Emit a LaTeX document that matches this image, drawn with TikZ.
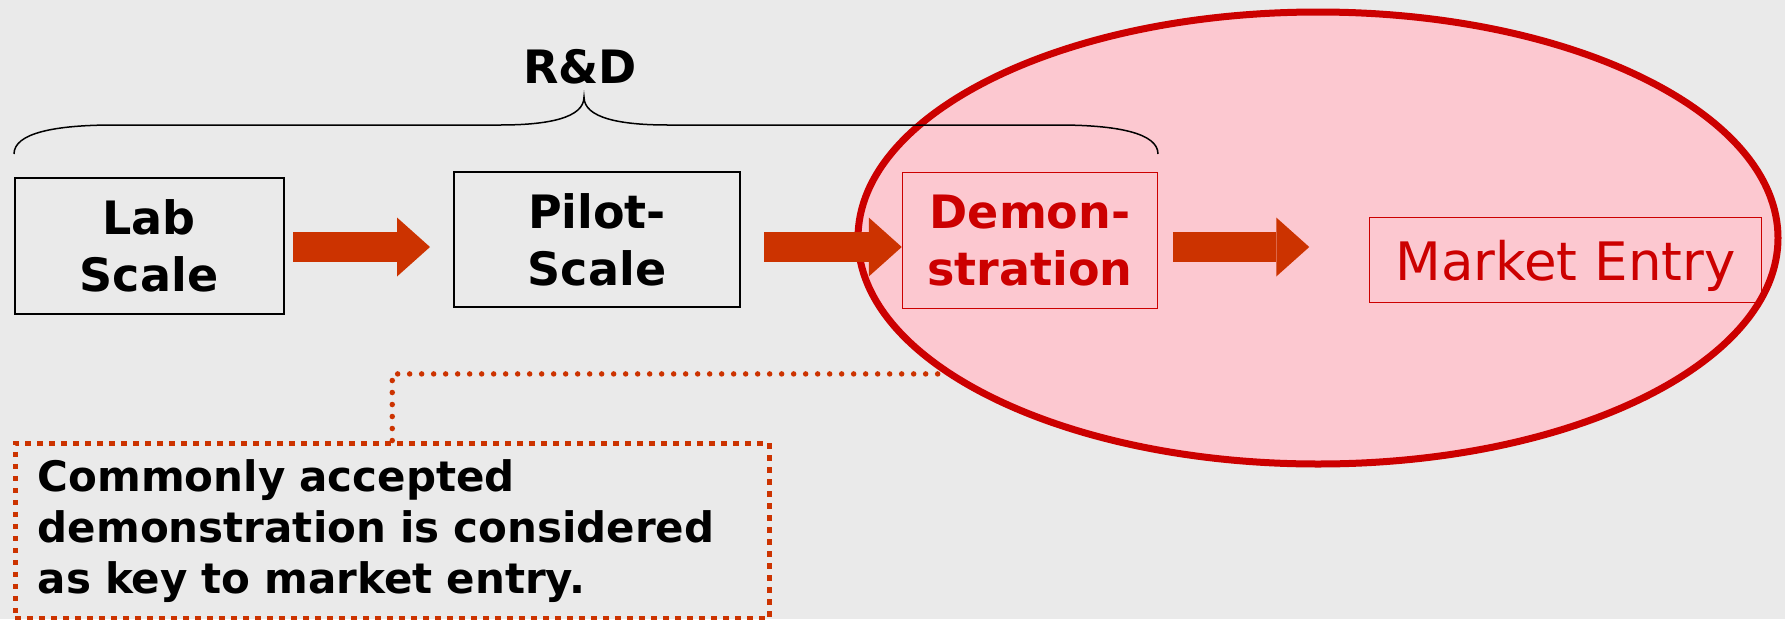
\documentclass[tikz,border=0pt]{standalone}
\usepackage{fontspec}
\setmainfont{DejaVu Sans}
\usetikzlibrary{shapes.geometric, arrows.meta}
\definecolor{bggray}{HTML}{EAEAEA}
\definecolor{rdred}{HTML}{CC0000}
\definecolor{rdorange}{HTML}{CC3300}
\definecolor{rdpink}{HTML}{FCC8D0}
\tikzset{>=stealth,
  stage/.style={draw=black, line width=2pt, align=center, inner sep=0pt,
    font=\fontsize{46}{57}\selectfont\bfseries},
  redstage/.style={stage, draw=rdred, line width=1.5pt, text=rdred},
  bigarrow/.style={draw=rdorange, line width=30pt,
    -{Triangle[width=59pt, length=33pt, line width=0pt]}},
  notebox/.style={draw=rdorange, line width=5.5pt, dash pattern=on 5.5pt off 6.5pt,
    align=left, inner xsep=22.5pt, inner ysep=0pt,
    font=\fontsize{42}{51}\selectfont\bfseries},
  dotline/.style={draw=rdorange, line width=5.5pt, line cap=round,
    dash pattern=on 0pt off 12pt}
}

\begin{document}
\begin{tikzpicture}[x=1pt, y=-1pt]
    \fill[bggray] (0,0) rectangle (1785,619);
    \useasboundingbox (0,0) rectangle (1785,619);

    \node[ellipse, draw=rdred, fill=rdpink, line width=7pt, inner sep=0pt,
      minimum width=920pt, minimum height=452pt] (goal) at (1318,238) {};

    % brace over the R&D stages
    \draw[line width=1.5pt] (14,154) .. controls (14,133) and (55,125) .. (114,125)
      -- (500,125) .. controls (548,125) and (584,118) .. (584,97)
      .. controls (584,118) and (620,125) .. (668,125)
      -- (1058,125) .. controls (1117,125) and (1158,133) .. (1158,154);
    \node[font=\fontsize{46}{57}\selectfont\bfseries] (rd) at (580,67) {R\&D};

    \node[stage, minimum width=269pt, minimum height=136pt] (lab) at (149,245.5) {Lab\\Scale};
    \node[stage, minimum width=286pt, minimum height=135pt] (pilot) at (597,239.5) {Pilot-\\Scale};
    \node[redstage, minimum width=255pt, minimum height=136pt] (demo) at (1030,240.5) {Demon-\\stration};
    \node[redstage, minimum width=392pt, minimum height=85pt, text depth=0pt,
      font=\fontsize{53}{60}\selectfont] (market) at (1565.5,260) {Market Entry};

    \coordinate (row) at (0,247);
    \draw[bigarrow, shorten <=8.5pt, shorten >=23pt] (lab.east |- row) -- (pilot.west |- row);
    \draw[bigarrow, shorten <=23pt] (pilot.east |- row) -- (demo.west |- row);
    \draw[bigarrow, shorten <=14.5pt, shorten >=59.5pt] (demo.east |- row) -- (market.west |- row);

    % callout
    \node[notebox, anchor=north west, text width=709pt, minimum height=175.5pt] (note) at (12.5,440.5)
      {Commonly accepted\\demonstration is considered\\as key to market entry.};
    \draw[dotline] (note.north) |- (goal.200);
\end{tikzpicture}
\end{document}
